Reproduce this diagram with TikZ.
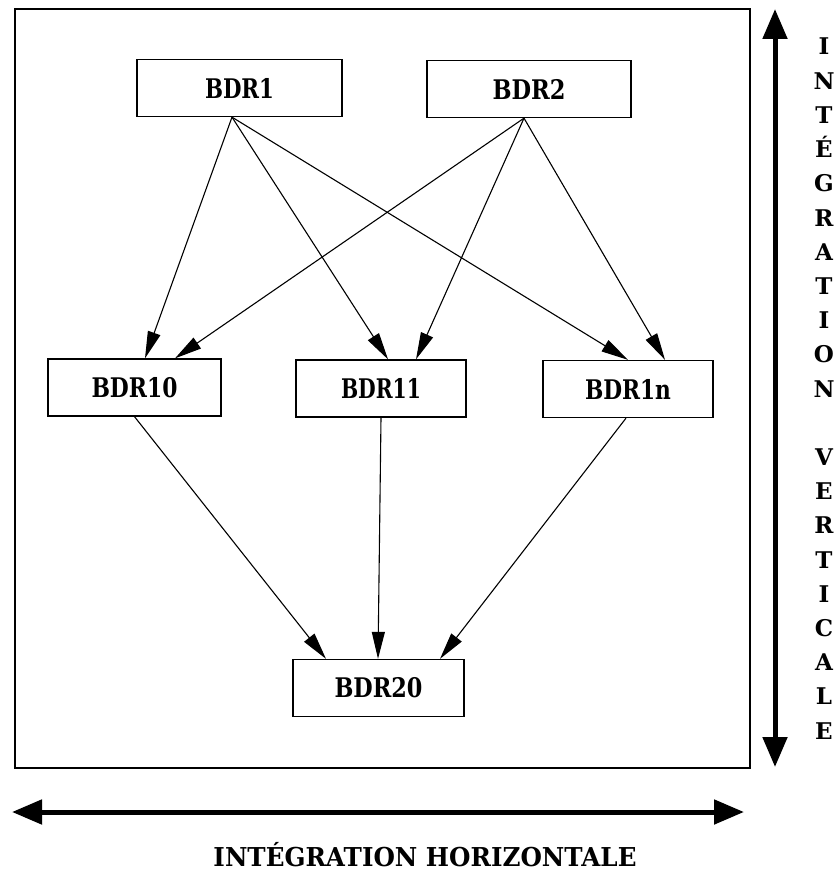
\documentclass[tikz,border=0pt]{standalone}
\usepackage{fontspec}
\usepackage{graphicx}
\newfontfamily\slab{DejaVu Serif}
\usetikzlibrary{arrows.meta}
\newcommand{\lab}[2]{\resizebox{#1pt}{\height}{#2}}
\begin{document}
\begin{tikzpicture}[x=1pt,y=-1pt,
  box/.style={draw,line width=1.3pt,minimum height=57pt,inner sep=0pt,
    font=\slab\bfseries\fontsize{27}{27}\selectfont},
  edge/.style={line width=1.1pt,-{Triangle[length=27pt,width=13pt]}},
  big/.style={line width=5pt,{Triangle[length=30pt,width=24pt]}-{Triangle[length=30pt,width=24pt]}},
  vl/.style={anchor=base,inner sep=0pt,font=\slab\bfseries\fontsize{23}{23}\selectfont},
  hl/.style={anchor=base,inner sep=0pt,font=\slab\bfseries\fontsize{26}{26}\selectfont}]
\useasboundingbox[fill=white] (0,0) rectangle (834,877);
% frame
\node[draw,line width=1.3pt,minimum width=735pt,minimum height=759pt,inner sep=0pt] (frame) at (382.5,388.5) {};
% boxes
\node[box,minimum width=205pt] (b1) at (239.5,88) {\lab{69}{BDR1}};
\node[box,minimum width=204pt] (b2) at (529,89) {\lab{73}{BDR2}};
\node[box,minimum width=173pt] (b10) at (134.5,387.5) {\lab{86}{BDR10}};
\node[box,minimum width=170pt] (b11) at (381,388.5) {\lab{80}{BDR11}};
\node[box,minimum width=170pt] (b1n) at (628,389) {\lab{86}{BDR1n}};
\node[box,minimum width=171pt] (b20) at (378.5,688) {\lab{88}{BDR20}};
% edges from BDR1
\draw[edge] ([xshift=-7.5pt]b1.south) -- ([xshift=10.5pt]b10.north);
\draw[edge] ([xshift=-7.5pt]b1.south) -- ([xshift=7pt]b11.north);
\draw[edge] ([xshift=-7.5pt]b1.south) -- ([xshift=0pt]b1n.north);
% edges from BDR2
\draw[edge] ([xshift=-5pt]b2.south) -- ([xshift=40.5pt]b10.north);
\draw[edge] ([xshift=-5pt]b2.south) -- ([xshift=35pt]b11.north);
\draw[edge] ([xshift=-5pt]b2.south) -- ([xshift=37pt]b1n.north);
% edges to BDR20
\draw[edge] (b10.south) -- ([xshift=-52.5pt]b20.north);
\draw[edge] (b11.south) -- ([xshift=-0.5pt]b20.north);
\draw[edge] ([xshift=-2pt]b1n.south) -- ([xshift=61.5pt]b20.north);
% big arrows
\coordinate (vtop) at (775,9);
\coordinate (vbot) at (775,767);
\coordinate (hl) at (12,812);
\coordinate (hr) at (744,812);
\draw[big] (vtop) -- (vbot);
\draw[big] (hl) -- (hr);
% vertical text
\foreach \c [count=\i from 0] in {I,N,T,É,G,R,A,T,I,O,N}
  \node[vl] (va\i) at (824,{55+34.2*\i}) {\c};
\foreach \c [count=\i from 12] in {V,E,R,T,I,C,A,L,E}
  \node[vl] (vb\i) at (824,{55+34.2*\i}) {\c};
% horizontal text
\node[hl] (htext) at (425,866) {\resizebox{423pt}{\height}{INTÉGRATION HORIZONTALE}};
\end{tikzpicture}
\end{document}
